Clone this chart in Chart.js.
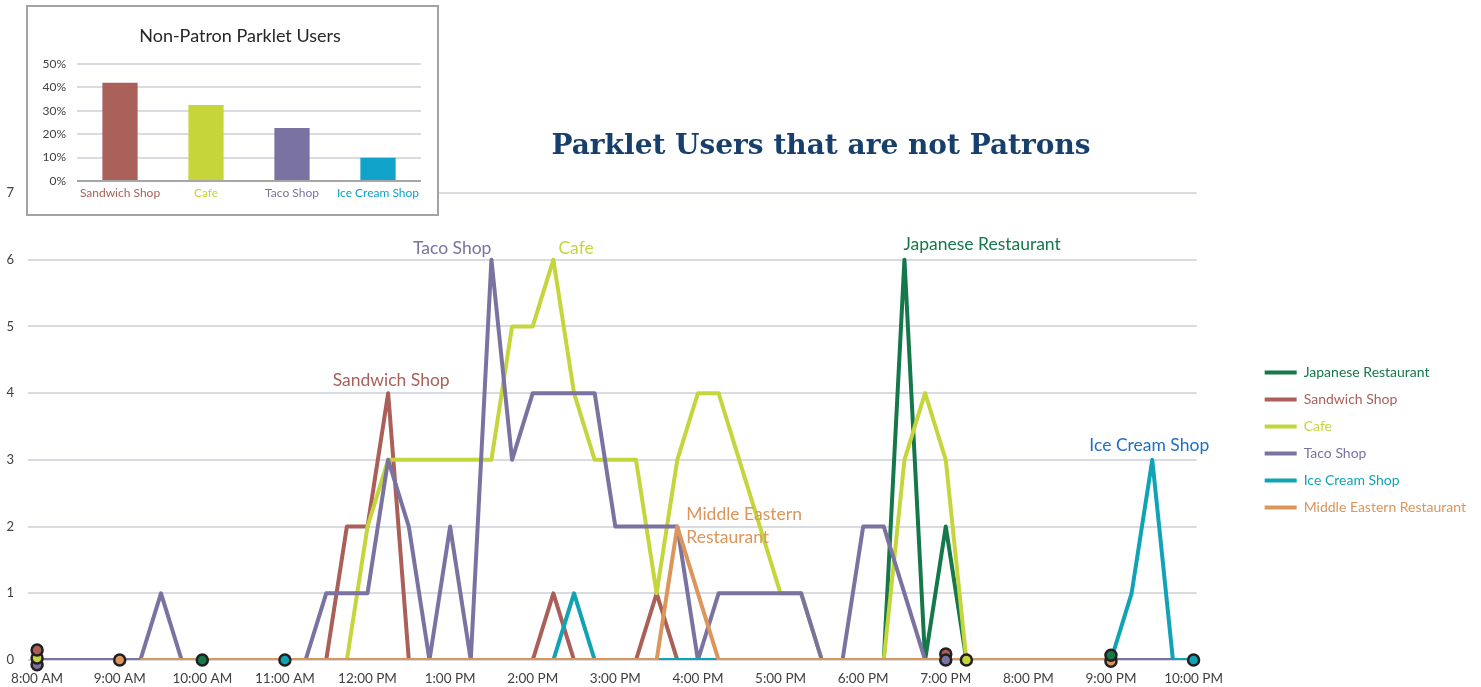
<!DOCTYPE html>
<html>
<head>
<meta charset="utf-8">
<script src="https://cdn.jsdelivr.net/npm/chart.js@4.4.0/dist/chart.umd.min.js"></script>
<style>
  body { margin: 0; background: #fff; }
  #wrap { position: relative; width: 1481px; height: 687px; overflow: hidden; }
  #main { position: absolute; left: 0; top: 0; }
  #title { position: absolute; left: 821px; top: 131px; transform: translateX(-50%);
           font: bold 28px 'DejaVu Serif'; line-height: 28px; color: #173f6b; white-space: nowrap; }
  #inset { position: absolute; left: 26px; top: 5px; width: 409px; height: 207px;
           border: 2px solid #a3a3a3; background: #fff; }
  #inset canvas { display: block; }
  #insetTitle { position: absolute; left: 0; top: 17px; width: 424px; text-align: center;
                font: 18px Lato; line-height: 22px; color: #262626; white-space: nowrap; }
</style>
</head>
<body>
<div id="wrap">
  <canvas id="main" width="1481" height="687"></canvas>
  <div id="title">Parklet Users that are not Patrons</div>
  <div id="inset">
    <canvas id="share" width="409" height="207"></canvas>
    <div id="insetTitle">Non-Patron Parklet Users</div>
  </div>
</div>
<script>
var N = null;

// hour marks on the x axis (one reading every 15 minutes, slot 0 = 8:00 AM, slot 56 = 10:00 PM)
var timeLabels = ['8:00 AM','9:00 AM','10:00 AM','11:00 AM','12:00 PM','1:00 PM','2:00 PM',
                  '3:00 PM','4:00 PM','5:00 PM','6:00 PM','7:00 PM','8:00 PM','9:00 PM','10:00 PM'];

var seriesNames = ['Japanese Restaurant','Sandwich Shop','Cafe','Taco Shop','Ice Cream Shop','Middle Eastern Restaurant'];

// counts per 15 min, four values per hour
var japanese = [N,N,N,N, N,N,N,N, 0,0,0,0, 0,0,0,0, 0,0,0,0, 0,0,0,0, 0,0,0,0,
                0,0,0,0, 0,0,0,0, 0,0,0,0, 0,0,6,0, 2,0,0,0, 0,0,0,0, 0,N,N,N, N];
var sandwich = [0,0,0,0, 0,0,0,0, 0,0,0,0, 0,0,0,2, 2,4,0,0, 0,0,0,0, 0,1,0,0,
                0,0,1,0, 0,0,0,0, 0,0,0,0, 0,0,0,0, 0,N,N,N, N,N,N,N, N,N,N,N, N];
var cafe     = [0,0,0,0, 0,0,0,0, 0,0,0,0, 0,0,0,0, 2,3,3,3, 3,3,3,5, 5,6,4,3,
                3,3,1,3, 4,4,3,2, 1,1,0,0, 0,0,3,4, 3,0,N,N, N,N,N,N, N,N,N,N, N];
var taco     = [0,0,0,0, 0,0,1,0, 0,0,0,0, 0,0,1,1, 1,3,2,0, 2,0,6,3, 4,4,4,4,
                2,2,2,2, 0,1,1,1, 1,1,0,0, 2,2,1,0, 0,0,0,0, 0,0,0,0, 0,0,0,0, N];
var iceCream = [N,N,N,N, N,N,N,N, N,N,N,N, 0,0,0,0, 0,0,0,0, 0,0,0,0, 0,0,1,0,
                0,0,0,0, 0,0,0,0, 0,0,0,0, 0,0,0,0, 0,0,0,0, 0,0,0,0, 0,1,3,0, 0];
var middleEastern = [N,N,N,N, N,0,0,0, 0,0,0,0, 0,0,0,0, 0,0,0,0, 0,0,0,0, 0,0,0,0,
                0,0,0,2, 1,0,0,0, 0,0,0,0, 0,0,0,0, 0,0,0,0, 0,0,0,0, 0,N,N,N, N];

// start / end dots of each observation window (drawn in this order)
var markerSeries = ['Taco Shop','Cafe','Sandwich Shop','Middle Eastern Restaurant','Japanese Restaurant','Ice Cream Shop',
                    'Sandwich Shop','Taco Shop','Cafe','Middle Eastern Restaurant','Japanese Restaurant','Ice Cream Shop'];
var markerSlots  = [0, 0, 0, 4, 8, 12, 44, 44, 45, 52, 52, 56];
var markerValues = [-0.07, 0.03, 0.15, 0, 0, 0, 0.09, 0, 0, -0.02, 0.07, 0];

// inset bar chart
var shareShops  = ['Sandwich Shop','Cafe','Taco Shop','Ice Cream Shop'];
var shareValues = [42, 32.5, 22.6, 9.9];

var seriesColors = {
  'Japanese Restaurant': '#14784a',
  'Sandwich Shop': '#aa6058',
  'Cafe': '#c5d63c',
  'Taco Shop': '#7a72a1',
  'Ice Cream Shop': '#10a3b6',
  'Middle Eastern Restaurant': '#dc955a'
};
var barColors = ['#aa6159', '#c6d63a', '#7a72a1', '#10a2c9'];

var callouts = [
  {lines: ['Taco Shop'], slot: 22, value: 6, align: 'right', dx: 0, dy: -11, color: '#7a72a1'},
  {lines: ['Cafe'], slot: 25, value: 6, align: 'left', dx: 5, dy: -11, color: '#c5d63c'},
  {lines: ['Sandwich Shop'], slot: 17, value: 4, align: 'center', dx: 3, dy: -13, color: '#aa6058'},
  {lines: ['Japanese Restaurant'], slot: 42, value: 6, align: 'left', dx: -1, dy: -15, color: '#14784a'},
  {lines: ['Middle Eastern', 'Restaurant'], slot: 31, value: 2, align: 'left', dx: 9, dy: -12, color: '#dc955a'},
  {lines: ['Ice Cream Shop'], slot: 54, value: 3, align: 'center', dx: -3, dy: -14, color: '#1f6fbf'}
];

Chart.defaults.font.family = 'Lato';
Chart.defaults.color = '#404040';

var seriesData = [japanese, sandwich, cafe, taco, iceCream, middleEastern];

var toPoints = function (arr) {
  return arr.map(function (v, i) { return {x: i, y: v}; });
};

var datasets = seriesNames.map(function (name, k) {
  return {
    label: name,
    data: toPoints(seriesData[k]),
    borderColor: seriesColors[name],
    backgroundColor: seriesColors[name],
    borderWidth: 4,
    borderJoinStyle: 'round',
    pointRadius: 0,
    tension: 0,
    fill: false,
    order: 6 - k   // last series in the legend sits on top, as in the original
  };
});

datasets.push({
  label: 'markers',
  data: markerSlots.map(function (s, i) { return {x: s, y: markerValues[i]}; }),
  showLine: false,
  pointRadius: 5.5,
  pointBorderWidth: 2.5,
  pointBorderColor: '#231f20',
  pointBackgroundColor: markerSeries.map(function (s) { return seriesColors[s]; }),
  clip: false,
  order: 0
});

var calloutPlugin = {
  id: 'callouts',
  afterDatasetsDraw: function (chart) {
    var ctx = chart.ctx;
    ctx.save();
    ctx.font = '17.5px Lato';
    ctx.textBaseline = 'middle';
    callouts.forEach(function (c) {
      var x = chart.scales.x.getPixelForValue(c.slot) + c.dx;
      var y = chart.scales.y.getPixelForValue(c.value) + c.dy;
      ctx.fillStyle = c.color;
      ctx.textAlign = c.align;
      c.lines.forEach(function (line, k) { ctx.fillText(line, x, y + k * 23); });
    });
    ctx.restore();
  }
};

new Chart(document.getElementById('main').getContext('2d'), {
  type: 'line',
  data: {datasets: datasets},
  plugins: [calloutPlugin],
  options: {
    responsive: false,
    animation: false,
    layout: {padding: {top: 193, right: 5, left: 0, bottom: 0}},
    plugins: {
      tooltip: {enabled: false},
      legend: {
        position: 'right',
        labels: {
          boxWidth: 32,
          boxHeight: 4,
          padding: 13,
          font: {size: 14},
          generateLabels: function () {
            return seriesNames.map(function (name, k) {
              return {text: name, fillStyle: seriesColors[name], strokeStyle: seriesColors[name],
                      lineWidth: 0, fontColor: seriesColors[name], hidden: false, datasetIndex: k};
            });
          }
        }
      }
    },
    scales: {
      x: {
        type: 'linear',
        min: -0.44,
        max: 56.15,
        grid: {display: false},
        border: {display: false},
        afterBuildTicks: function (scale) {
          scale.ticks = timeLabels.map(function (t, k) { return {value: k * 4}; });
        },
        ticks: {
          autoSkip: false,
          maxRotation: 0,
          padding: 3,
          font: {size: 13.5},
          callback: function (v) { return timeLabels[v / 4]; }
        },
        afterFit: function (scale) { scale.height = 27; }
      },
      y: {
        min: 0,
        max: 7,
        ticks: {stepSize: 1, padding: 14, font: {size: 13}},
        grid: {color: '#d8dbe0', lineWidth: 2, drawTicks: false},
        border: {display: false},
        afterFit: function (scale) { scale.width = 28; }
      },
      gap: {
        type: 'linear',
        position: 'right',
        display: true,
        grid: {display: false},
        ticks: {display: false},
        border: {display: false},
        afterFit: function (scale) { scale.width = 55; }
      }
    }
  }
});

new Chart(document.getElementById('share').getContext('2d'), {
  type: 'bar',
  data: {
    labels: shareShops,
    datasets: [{
      data: shareValues,
      backgroundColor: barColors,
      barPercentage: 0.41,
      categoryPercentage: 1
    }]
  },
  options: {
    responsive: false,
    animation: false,
    layout: {padding: {left: 14, right: 16, top: 57, bottom: 0}},
    plugins: {
      legend: {display: false},
      tooltip: {enabled: false},
      title: {display: false}
    },
    scales: {
      x: {
        grid: {display: false, drawTicks: false},
        border: {display: false},
        ticks: {
          font: {size: 12},
          padding: 5,
          autoSkip: false,
          maxRotation: 0,
          minRotation: 0,
          color: function (c) { return barColors[c.index]; }
        },
        afterFit: function (scale) { scale.height = 33; }
      },
      y: {
        min: 0,
        max: 50,
        ticks: {stepSize: 10, padding: 11, font: {size: 12},
                callback: function (v) { return v + '%'; }},
        grid: {
          lineWidth: 2,
          drawTicks: false,
          color: function (c) { return c.tick.value === 0 ? '#a6a6a6' : '#d8dbe0'; }
        },
        border: {display: false},
        afterFit: function (scale) { scale.width = 35; }
      }
    }
  }
});
</script>
</body>
</html>
